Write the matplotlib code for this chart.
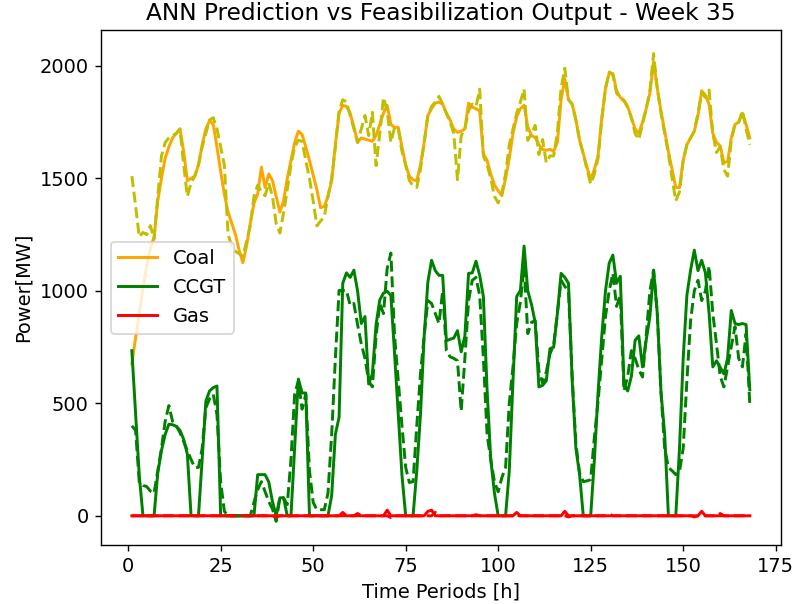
import numpy as np
import matplotlib
matplotlib.use('Agg')
import matplotlib.pyplot as plt

# hourly values for week 35 (one row per day)
coal_ann = [
    675, 790, 900, 1010, 1110, 1190, 1240, 1400, 1500, 1590, 1640, 1680, 1700, 1720, 1620, 1490, 1500, 1510, 1560, 1650, 1720, 1758, 1740, 1640,
    1530, 1430, 1350, 1300, 1250, 1180, 1125, 1200, 1300, 1390, 1430, 1550, 1460, 1520, 1490, 1420, 1350, 1400, 1500, 1580, 1660, 1710, 1695, 1640,
    1580, 1515, 1450, 1370, 1375, 1420, 1490, 1650, 1790, 1825, 1820, 1790, 1730, 1660, 1680, 1675, 1670, 1665, 1690, 1740, 1790, 1825, 1740, 1727,
    1727, 1640, 1560, 1510, 1494, 1490, 1560, 1660, 1780, 1810, 1835, 1839, 1830, 1790, 1760, 1720, 1705, 1710, 1720, 1835, 1817, 1810, 1800, 1610,
    1580, 1520, 1470, 1445, 1423, 1500, 1590, 1700, 1775, 1810, 1825, 1730, 1690, 1682, 1650, 1629, 1625, 1630, 1620, 1660, 1850, 1942, 1850, 1830,
    1760, 1670, 1610, 1550, 1495, 1540, 1602, 1770, 1900, 1970, 1966, 1890, 1860, 1848, 1820, 1770, 1720, 1700, 1750, 1810, 1880, 2020, 1900, 1800,
    1710, 1620, 1540, 1460, 1459, 1580, 1650, 1680, 1710, 1780, 1890, 1870, 1830, 1700, 1660, 1645, 1570, 1575, 1680, 1740, 1750, 1790, 1740, 1680,
]
coal_feas = [
    1510, 1380, 1240, 1260, 1250, 1290, 1230, 1420, 1600, 1660, 1680, 1690, 1700, 1720, 1560, 1420, 1480, 1510, 1560, 1640, 1700, 1760, 1770, 1720,
    1640, 1560, 1250, 1200, 1175, 1165, 1154, 1220, 1290, 1420, 1470, 1440, 1423, 1480, 1420, 1300, 1257, 1347, 1450, 1560, 1640, 1670, 1665, 1580,
    1500, 1400, 1289, 1310, 1330, 1420, 1500, 1640, 1800, 1850, 1840, 1780, 1720, 1660, 1720, 1780, 1690, 1794, 1557, 1700, 1860, 1800, 1660, 1727,
    1720, 1620, 1560, 1490, 1467, 1460, 1540, 1660, 1780, 1820, 1840, 1865, 1830, 1790, 1750, 1700, 1494, 1690, 1720, 1800, 1830, 1820, 1897, 1600,
    1560, 1500, 1420, 1391, 1436, 1520, 1650, 1720, 1790, 1840, 1897, 1669, 1700, 1736, 1606, 1673, 1570, 1600, 1600, 1705, 1900, 1990, 1850, 1830,
    1760, 1670, 1610, 1540, 1475, 1520, 1590, 1760, 1900, 1973, 1960, 1880, 1855, 1845, 1815, 1770, 1700, 1673, 1740, 1810, 1890, 2055, 1900, 1790,
    1700, 1610, 1500, 1400, 1440, 1580, 1650, 1680, 1710, 1790, 1880, 1860, 1893, 1700, 1615, 1640, 1540, 1510, 1670, 1740, 1750, 1800, 1720, 1650,
]
ccgt_ann = [
    734, 460, 180, 0, 0, 0, 0, 190, 290, 362, 407, 405, 398, 380, 340, 273, 0, 0, 0, 250, 510, 555, 570, 577,
    0, 0, 0, 0, 0, 0, 0, 0, 0, 0, 183, 183, 183, 150, 63, 0, 80, 80, 0, 0, 300, 608, 546, 546,
    0, 0, 0, 0, 0, 0, 90, 362, 438, 1034, 1080, 1060, 1092, 1000, 855, 886, 586, 631, 850, 960, 990, 998, 980, 720,
    450, 180, 0, 0, 0, 200, 450, 800, 1040, 1136, 1090, 1069, 1069, 778, 785, 790, 823, 729, 800, 1078, 1080, 1132, 1069, 975,
    560, 250, 100, 0, 0, 0, 200, 600, 975, 1002, 1199, 1000, 940, 860, 573, 580, 600, 743, 750, 900, 1078, 1060, 1034, 600,
    300, 183, 0, 0, 0, 250, 550, 800, 1000, 1123, 1159, 1034, 1065, 586, 555, 620, 780, 800, 662, 780, 886, 1092, 900, 550,
    362, 0, 0, 0, 300, 700, 980, 1092, 1181, 1090, 1136, 1080, 900, 662, 689, 660, 631, 700, 913, 855, 850, 855, 850, 560,
]
ccgt_feas = [
    400, 380, 150, 135, 130, 110, 100, 200, 300, 420, 490, 420, 400, 370, 330, 290, 250, 215, 215, 300, 480, 520, 540, 450,
    150, 20, 0, 0, 0, 0, 0, 0, 0, 60, 116, 152, 107, 63, 30, -25, 80, 80, 50, 250, 541, 600, 474, 540,
    200, 60, 27, 27, 27, 100, 362, 700, 1002, 1002, 1002, 935, 944, 850, 765, 700, 600, 573, 800, 944, 899, 1100, 1168, 800,
    600, 400, 215, 148, 152, 400, 631, 800, 957, 944, 900, 855, 1000, 734, 707, 700, 689, 465, 700, 957, 1047, 1060, 980, 700,
    362, 250, 150, 107, 170, 215, 500, 662, 855, 950, 1110, 810, 860, 868, 644, 590, 640, 720, 760, 900, 1047, 1020, 1000, 620,
    320, 190, 152, 155, 161, 350, 510, 700, 886, 1000, 1078, 931, 980, 555, 620, 734, 700, 650, 617, 800, 1000, 1092, 900, 550,
    300, 215, 200, 183, 197, 300, 600, 868, 1000, 1047, 957, 1000, 1110, 900, 765, 620, 573, 662, 750, 841, 700, 662, 810, 497,
]
gas_ann = [
    0, 0, 0, 0, 0, 0, 0, 0, 0, 0, 0, 0, 0, 0, 0, 0, 0, 0, 0, 0, 0, 0, 0, 0,
    0, 0, 0, 0, 0, 0, 0, 0, 0, 0, 0, 0, 0, 0, 0, 0, 0, 0, 0, 0, 0, 0, 0, 0,
    0, 0, 0, 0, 0, 0, 0, 0, 0, 15, 0, 0, 0, 0, 0, 0, 0, 0, 0, 0, 0, 25, 0, 0,
    0, 0, 0, 0, 0, 0, 0, 0, 20, 25, 0, 0, 0, 0, 0, 0, 0, 0, 0, 0, 0, 0, 0, 0,
    0, 0, 0, 0, 0, 0, 0, 0, 15, 0, 0, 0, 0, 0, 0, 0, 0, 0, 0, 0, 0, 20, 0, 0,
    0, 0, 0, 0, 0, 0, 0, 0, 0, 0, 0, 0, 0, 0, 0, 0, 0, 0, 0, 0, 0, 0, 0, 0,
    0, 0, 0, 0, 0, 0, 0, 0, 0, 0, 20, 0, 0, 0, 0, 0, 0, 0, 0, 0, 0, 0, 0, 0,
]
gas_feas = [
    0, 0, 0, 0, 0, 0, 0, 0, 0, 0, 0, 0, 0, 0, 0, 0, 0, 0, 0, 0, 0, 0, 0, 0,
    0, 0, 0, 0, 0, 0, 0, 0, 0, 0, 0, 0, 0, 0, 0, -5, 0, 0, 0, 0, 0, 0, 0, 0,
    0, 0, 0, 0, 0, 0, 0, 0, 0, 0, 0, 0, 0, 10, 0, 0, 0, 0, 0, 0, 0, 0, -8, 0,
    0, 0, 0, 0, 0, 0, 0, 0, 0, 0, 15, 0, 0, 0, 0, 0, 0, 0, 0, 0, 0, 5, 0, 0,
    0, 0, 0, 0, 0, 0, 0, 0, 0, 0, 0, 0, 0, 0, 0, 0, 0, 0, 0, 0, 0, 0, -5, 0,
    0, 0, 0, 0, 0, 0, 0, 0, 0, 8, 0, 0, 0, 0, 0, 0, 0, 0, 0, 0, 0, 0, 0, 0,
    0, 0, 0, 0, 0, 0, 0, 0, -5, 0, 0, 0, 0, 0, 0, 10, 0, 0, 0, 0, 0, 0, 0, 0,
]
hours = np.arange(1, len(coal_ann) + 1)

plt.rcParams['font.size'] = 11.2
plt.rcParams['lines.linewidth'] = 1.7

fig = plt.figure(figsize=(6.36, 4.832), dpi=125)
ax = fig.add_axes([0.127, 0.098, 0.855, 0.852])

ax.plot(hours, coal_ann, color='orange', label='Coal')
ax.plot(hours, ccgt_ann, color='green', label='CCGT')
ax.plot(hours, gas_ann, color='red', label='Gas')
ax.plot(hours, coal_feas, 'y--')
ax.plot(hours, ccgt_feas, 'g--')
ax.plot(hours, gas_feas, 'r--')

ax.set_xlabel('Time Periods [h]')
ax.set_ylabel('Power[MW]')
ax.set_title('ANN Prediction vs Feasibilization Output - Week 35', fontsize=13.4)
ax.legend(loc='center left')

fig.savefig('out.png', dpi=125)
